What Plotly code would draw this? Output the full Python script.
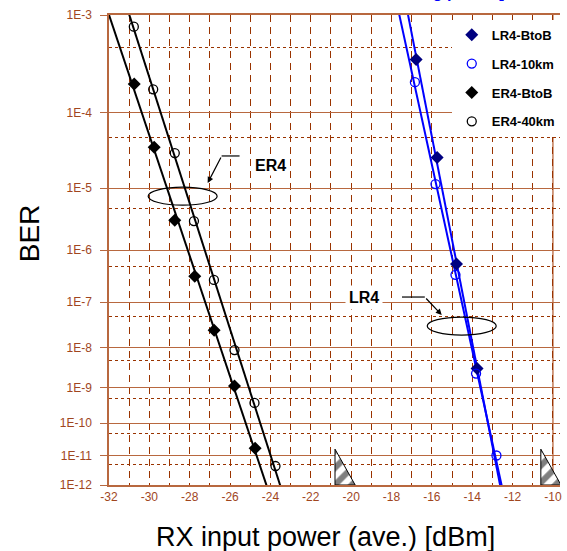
import numpy as np
import plotly.graph_objects as go

# ---------------- data ----------------
lr4_btob_x = [-16.78, -15.74, -14.78, -13.76]
lr4_btob_ber = [3.8e-4, 2.7e-5, 5.6e-7, 3.1e-9]
lr4_10km_x = [-16.84, -15.82, -14.83, -13.81, -12.80]
lr4_10km_ber = [2.2e-4, 1.15e-5, 3.5e-7, 2.3e-9, 1.0e-11]
er4_btob_x = [-30.75, -29.76, -28.74, -27.75, -26.79, -25.78, -24.76]
er4_btob_ber = [2.1e-4, 3.7e-5, 3.2e-6, 3.3e-7, 2.5e-8, 1.1e-9, 1.7e-11]
er4_40km_x = [-30.77, -29.81, -28.74, -27.79, -26.80, -25.78, -24.79, -23.75]
er4_40km_ber = [7.85e-4, 1.84e-4, 3.1e-5, 3.1e-6, 2.8e-7, 8.7e-9, 3.8e-10, 4.5e-12]

# sensitivity spec marks (hatched triangles)
spec_x = [-20.8, -10.6]
spec_top_ber = 1.6e-11

x_ticks = list(range(-32, -9, 2))
x_ticklabels = [str(v) for v in x_ticks]
ber_decades = list(range(3, 13))
ber_ticklabels = ["1E-%d" % n for n in ber_decades]
ber_minor = [5 * 10.0 ** (-n) for n in range(4, 13)]

BROWN = "#a0461e"
GRID_DARK = "#993300"
GRID_SOLID = "#b8683f"
FONT = "Arial, Liberation Sans, sans-serif"

Y_TOP_BER, Y_BOT_BER = 1e-3, 1e-12


def tv(ber):
    """plotted value: -log10(BER) on a log axis (log(-log BER) scale)"""
    return -np.log10(np.asarray(ber, dtype=float))


def fit_line(x, ber):
    v = np.log10(tv(ber))
    a, b = np.polyfit(np.asarray(x, float), v, 1)
    vs = np.array([0.44, 1.12])
    return (vs - b) / a, 10 ** vs


VT, VB = float(np.log10(tv(Y_TOP_BER))), float(np.log10(tv(Y_BOT_BER)))


def py(ber):
    """paper y of a BER level"""
    return 1 - (float(np.log10(tv(ber))) - VT) / (VB - VT)


fig = go.Figure()

# fitted lines
for xs, bs, col in [
    (lr4_btob_x, lr4_btob_ber, "#0000ff"),
    (lr4_10km_x, lr4_10km_ber, "#0000ff"),
    (er4_btob_x, er4_btob_ber, "black"),
    (er4_40km_x, er4_40km_ber, "black"),
]:
    lx, ly = fit_line(xs, bs)
    fig.add_trace(go.Scatter(x=lx, y=ly, mode="lines", line=dict(color=col, width=2),
                             showlegend=False, hoverinfo="skip"))

# hatched spec triangles
tri_w = 1.0
for sx in spec_x:
    fig.add_trace(go.Scatter(
        x=[sx, sx, sx + tri_w, sx], y=[tv(spec_top_ber), 12, 12, tv(spec_top_ber)],
        mode="lines", fill="toself", line=dict(color="black", width=1),
        fillcolor="white",
        fillpattern=dict(shape="/", fgcolor="black", bgcolor="white", size=12, solidity=0.5),
        showlegend=False, hoverinfo="skip"))

# markers
series = [
    ("LR4-BtoB", lr4_btob_x, lr4_btob_ber, dict(symbol="diamond", size=10, color="#000080")),
    ("LR4-10km", lr4_10km_x, lr4_10km_ber, dict(symbol="circle-open", size=9, color="#0000ff",
                                                 line=dict(width=1.3))),
    ("ER4-BtoB", er4_btob_x, er4_btob_ber, dict(symbol="diamond", size=10, color="black")),
    ("ER4-40km", er4_40km_x, er4_40km_ber, dict(symbol="circle-open", size=9, color="black",
                                                 line=dict(width=1.3))),
]
for i, (name, xs, bs, mk) in enumerate(series):
    fig.add_trace(go.Scatter(x=xs, y=tv(bs), mode="markers", name=name, marker=mk,
                             legendgroup="g%d" % i))

# ---------------- decorations ----------------
X0, X1 = -32, -9.65
shapes = []
# solid line at -10
shapes.append(dict(type="line", xref="x", yref="paper", x0=-10, x1=-10, y0=0, y1=1,
                   line=dict(color=GRID_SOLID, width=1.3), layer="below"))
# ellipses
for cx, cber in [(-28.35, 7.6e-6), (-14.52, 3.1e-8)]:
    shapes.append(dict(type="circle", xref="x", yref="paper", xsizemode="pixel", ysizemode="pixel",
                       xanchor=cx, yanchor=py(cber), x0=-34.5, x1=34.5, y0=-9, y1=9,
                       line=dict(color="black", width=1.2)))
# leader lines (horizontal part)
shapes.append(dict(type="line", xref="x", yref="paper", x0=-26.42, x1=-25.53,
                   y0=py(2.84e-5), y1=py(2.84e-5), line=dict(color="black", width=1.2)))
shapes.append(dict(type="line", xref="x", yref="paper", x0=-17.48, x1=-16.35,
                   y0=py(1.28e-7), y1=py(1.28e-7), line=dict(color="black", width=1.2)))

annotations = []
annotations.append(dict(x=-24.0, y=py(2.9e-5), xref="x", yref="paper", text="<b>ER4</b>",
                        showarrow=False, font=dict(family=FONT, size=16, color="black"),
                        bgcolor="white"))
annotations.append(dict(x=-19.37, y=py(1.28e-7), xref="x", yref="paper", text="<b>LR4</b>",
                        showarrow=False, font=dict(family=FONT, size=16, color="black"),
                        bgcolor="white", borderpad=3))
# arrows (diagonal part of leaders)
annotations.append(dict(x=-27.11, y=py(1.19e-5), xref="x", yref="paper", text="", showarrow=True,
                        ax=14, ay=-27, arrowhead=2, arrowsize=1, arrowwidth=1.2, arrowcolor="black"))
annotations.append(dict(x=-15.51, y=py(5.4e-8), xref="x", yref="paper", text="", showarrow=True,
                        ax=-17, ay=-18, arrowhead=2, arrowsize=1, arrowwidth=1.2, arrowcolor="black"))
# axis titles
annotations.append(dict(x=0.479, y=-0.111, xref="paper", yref="paper", text="RX input power (ave.) [dBm]",
                        showarrow=False, font=dict(family=FONT, size=27, color="black"),
                        xanchor="center", yanchor="middle"))
annotations.append(dict(x=-0.177, y=0.536, xref="paper", yref="paper", text="BER", textangle=-90,
                        showarrow=False, font=dict(family=FONT, size=28, color="black"),
                        xanchor="center", yanchor="middle"))
# clipped title at the very top
annotations.append(dict(x=0.74, y=1.0245, xref="paper", yref="paper",
                        text="<b>BER vs. Receiving power [LR4 / ER4]</b>",
                        showarrow=False, font=dict(family=FONT, size=16, color="#0000ff"),
                        xanchor="center", yanchor="bottom"))

fig.update_layout(
    width=567, height=551,
    margin=dict(l=109, r=5, t=15, b=66),
    paper_bgcolor="white", plot_bgcolor="white",
    font=dict(family=FONT, color=BROWN, size=12),
    showlegend=True,
    legend=dict(x=0.76, y=0.99, xanchor="left", yanchor="top", bgcolor="white",
                font=dict(family=FONT, size=13, color="black", weight="bold"),
                tracegroupgap=9, itemwidth=30),
    shapes=shapes, annotations=annotations,
    xaxis=dict(range=[X0, X1], tickvals=x_ticks, ticktext=x_ticklabels,
               showgrid=True, gridcolor=GRID_DARK, griddash="7px,5px", gridwidth=1,
               minor=dict(dtick=1, tick0=-32, showgrid=True, gridcolor=GRID_DARK,
                          griddash="7px,5px", gridwidth=1),
               showline=True, linecolor=GRID_SOLID, linewidth=1.5, mirror=True,
               ticks="", zeroline=False,
               tickfont=dict(family=FONT, size=12, color=BROWN)),
    yaxis=dict(type="log", range=[np.log10(12), np.log10(3)],
               tickvals=ber_decades, ticktext=ber_ticklabels,
               showgrid=True, gridcolor=GRID_SOLID, gridwidth=1.3,
               minor=dict(tickvals=list(tv(ber_minor)), showgrid=True, gridcolor=GRID_DARK,
                          griddash="3px,3px", gridwidth=1),
               showline=True, linecolor=GRID_SOLID, linewidth=1.5,
               ticks="outside", ticklen=7, tickcolor=GRID_SOLID, ticklabelstandoff=6,
               zeroline=False,
               tickfont=dict(family=FONT, size=12, color=BROWN)),
)

fig.write_html("out.html", config={"displayModeBar": False},
               post_script="document.body.style.margin='0px';")
